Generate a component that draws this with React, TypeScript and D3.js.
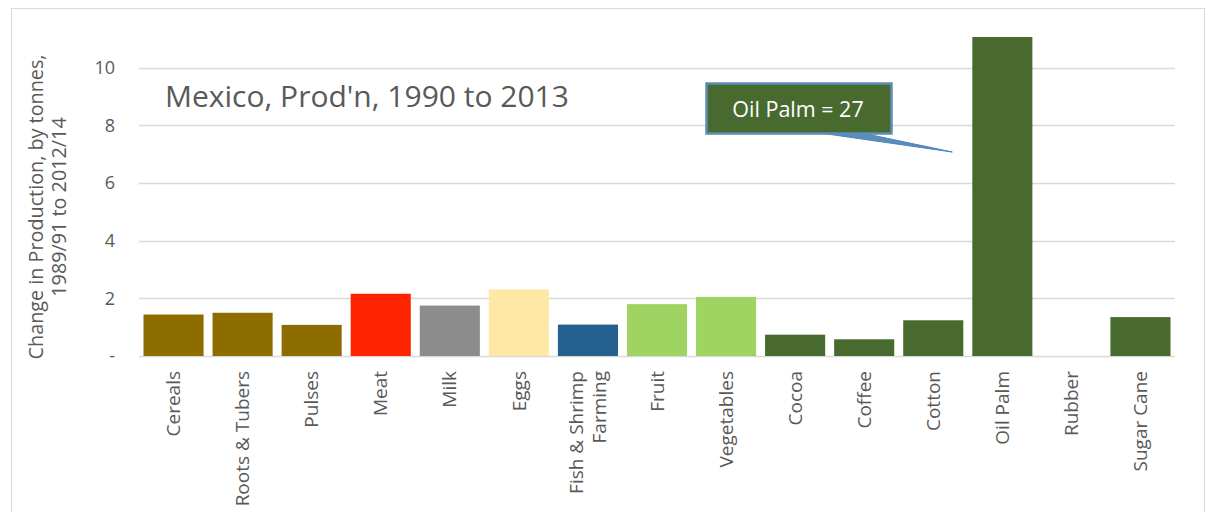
import React from "react";
import * as d3 from "d3";

const categories = ["Cereals", "Roots & Tubers", "Pulses", "Meat", "Milk", "Eggs", "Fish & Shrimp\nFarming", "Fruit", "Vegetables", "Cocoa", "Coffee", "Cotton", "Oil Palm", "Rubber", "Sugar Cane"];
const values = [1.44, 1.5, 1.08, 2.16, 1.75, 2.31, 1.09, 1.8, 2.05, 0.74, 0.58, 1.24, 27, 0, 1.35];
const colors = ["#8E6D00", "#8E6D00", "#8E6D00", "#FF2400", "#8C8C8C", "#FFE8A6", "#24618E", "#A0D462", "#A0D462", "#486A2F", "#486A2F", "#486A2F", "#486A2F", "#486A2F", "#486A2F"];
const yTicks = [0, 2, 4, 6, 8, 10];
const yTickLabels = ["-", "2", "4", "6", "8", "10"];
const title = "Mexico, Prod'n, 1990 to 2013";
const yTitle = ["Change in Production, by tonnes,", "1989/91 to 2012/14"];
const annotation = "Oil Palm = 27";

const W = 1209, H = 512;
const FONT = "'Open Sans', sans-serif";
const TXT = "#595959";

export default function App() {
  const x = d3.scaleBand<string>().domain(categories).range([139, 1175]).paddingInner(0.13).paddingOuter(0.065);
  const yMax = 11.07;
  const y = d3.scaleLinear().domain([0, yMax]).range([356, 37]);
  const clip = (v: number) => Math.min(v, yMax);
  const op = categories[12];
  const opx = x(op)!;
  return (
    <svg width={W} height={H} style={{ position: "absolute", left: 0, top: 0 }}>
      <rect x={0} y={0} width={W} height={H} fill="#fff" />
      <rect x={11.5} y={8.5} width={1193} height={520} fill="#fff" stroke="#D9D9D9" />
      {yTicks.map((t, i) => (
        <g key={t}>
          <line x1={139} x2={1175} y1={Math.round(y(t)) + 0.5} y2={Math.round(y(t)) + 0.5} stroke="#D9D9D9" strokeWidth={1.3} />
          <text x={115} y={y(t)} dy="0.35em" textAnchor="end" fontFamily={FONT} fontSize={18} fill={TXT}>{yTickLabels[i]}</text>
        </g>
      ))}
      {categories.map((c, i) => (
        <rect key={c} x={x(c)} y={y(clip(values[i]))} width={x.bandwidth()} height={y(0) - y(clip(values[i]))} fill={colors[i]} />
      ))}
      {categories.map((c) => {
        const lines = c.split("\n");
        const cx = x(c)! + x.bandwidth() / 2;
        const lh = 23;
        return (
          <text key={c} transform={`translate(${cx},371) rotate(-90)`} textAnchor="end" fontFamily={FONT} fontSize={19} fill={TXT}>
            {lines.map((l, j) => (
              <tspan key={j} x={0} y={(j - (lines.length - 1) / 2) * lh} dy="0.35em">{l}</tspan>
            ))}
          </text>
        );
      })}
      <text transform={`translate(48,207) rotate(-90)`} textAnchor="middle" fontFamily={FONT} fontSize={19.8} fill={TXT}>
        {yTitle.map((l, j) => (
          <tspan key={j} x={0} y={(j - 0.5) * 23} dy="0.35em">{l}</tspan>
        ))}
      </text>
      <text x={165} y={107} fontFamily={FONT} fontSize={30} fill={TXT}>{title}</text>
      <polygon points={`820,133 862,133 ${opx - 20},152`} fill="#5B8DB8" stroke="#4F81BD" strokeWidth={1} />
      <rect x={706.5} y={83.5} width={185} height={50} fill="#486A2F" stroke="#5B8DB8" strokeWidth={2.5} />
      <text x={798} y={109} dy="0.35em" textAnchor="middle" fontFamily={FONT} fontSize={21.5} fill="#fff">{annotation}</text>
    </svg>
  );
}
